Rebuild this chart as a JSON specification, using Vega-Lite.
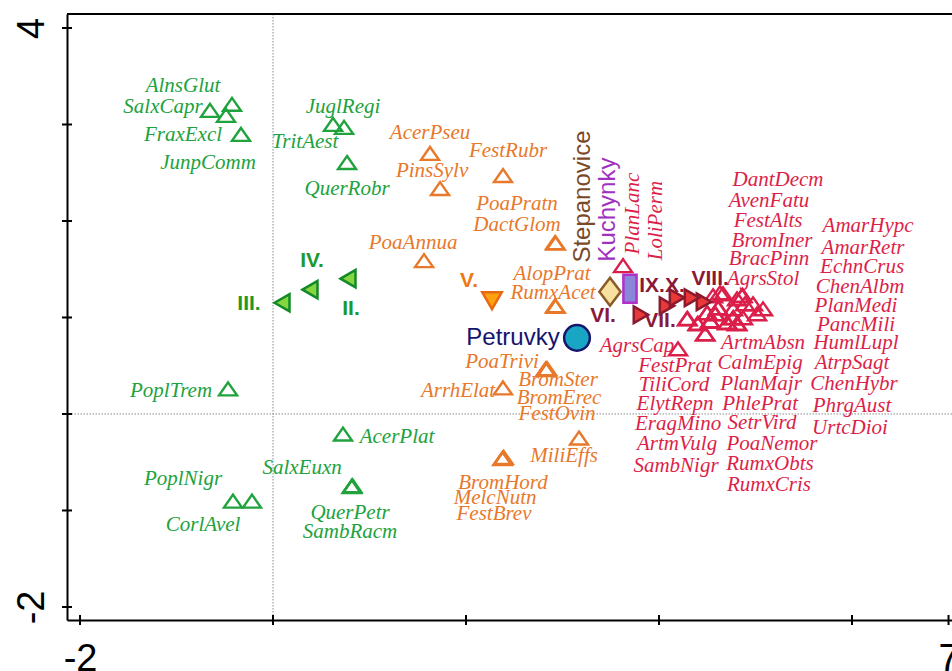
{
  "$schema": "https://vega.github.io/schema/vega-lite/v6.json",
  "width": 885,
  "height": 606,
  "autosize": {"type": "none"},
  "padding": {"left": 67, "top": 14, "right": 0, "bottom": 51},
  "background": "white",
  "config": {
    "view": {"stroke": null},
    "axisX": {
      "domain": true, "domainColor": "black", "domainWidth": 2,
      "ticks": false, "tickSize": 0, "grid": false,
      "labelFont": "Liberation Sans", "labelFontSize": 38, "labelColor": "black",
      "labelPadding": 20, "labelFlush": false, "labelOverlap": false, "labelBound": false
    },
    "axisY": {
      "domain": true, "domainColor": "black", "domainWidth": 2,
      "ticks": false, "tickSize": 0, "grid": false,
      "labelFont": "Liberation Sans", "labelFontSize": 38, "labelColor": "black",
      "labelAngle": 270, "labelAlign": "center", "labelBaseline": "alphabetic",
      "labelPadding": 24, "labelFlush": false, "labelOverlap": false, "labelBound": false
    }
  },
  "datasets": {
    "species": [
      {"name": "AlnsGlut", "group": "forest", "x": -0.425, "y": 3.209, "lx": -0.933, "ly": 3.396},
      {"name": "SalxCapr", "group": "forest", "x": -0.653, "y": 3.146, "lx": -1.140, "ly": 3.178},
      {"name": "JunpComm", "group": "forest", "x": -0.487, "y": 3.094, "lx": -0.674, "ly": 2.606},
      {"name": "FraxExcl", "group": "forest", "x": -0.332, "y": 2.897, "lx": -0.933, "ly": 2.887},
      {"name": "JuglRegi", "group": "forest", "x": 0.622, "y": 3.001, "lx": 0.725, "ly": 3.178},
      {"name": "TritAest", "group": "forest", "x": 0.736, "y": 2.970, "lx": 0.332, "ly": 2.814},
      {"name": "QuerRobr", "group": "forest", "x": 0.767, "y": 2.606, "lx": 0.767, "ly": 2.336},
      {"name": "PoplTrem", "group": "forest", "x": -0.466, "y": 0.260, "lx": -1.057, "ly": 0.239},
      {"name": "AcerPlat", "group": "forest", "x": 0.725, "y": -0.208, "lx": 1.285, "ly": -0.239},
      {"name": "SalxEuxn", "group": "forest", "x": 0.819, "y": -0.748, "lx": 0.301, "ly": -0.561},
      {"name": "QuerPetr", "group": "forest", "x": 0.815, "y": -0.752, "lx": 0.798, "ly": -1.028},
      {"name": "SambRacm", "group": "forest", "x": 0.823, "y": -0.744, "lx": 0.798, "ly": -1.225},
      {"name": "PoplNigr", "group": "forest", "x": -0.415, "y": -0.903, "lx": -0.933, "ly": -0.675},
      {"name": "CorlAvel", "group": "forest", "x": -0.218, "y": -0.903, "lx": -0.725, "ly": -1.153},
      {"name": "AcerPseu", "group": "grassland", "x": 1.627, "y": 2.700, "lx": 1.627, "ly": 2.908},
      {"name": "FestRubr", "group": "grassland", "x": 2.383, "y": 2.471, "lx": 2.435, "ly": 2.721},
      {"name": "PinsSylv", "group": "grassland", "x": 1.731, "y": 2.336, "lx": 1.648, "ly": 2.513},
      {"name": "PoaPratn", "group": "grassland", "x": 2.922, "y": 1.776, "lx": 2.528, "ly": 2.181},
      {"name": "DactGlom", "group": "grassland", "x": 2.930, "y": 1.770, "lx": 2.528, "ly": 1.963},
      {"name": "PoaAnnua", "group": "grassland", "x": 1.565, "y": 1.589, "lx": 1.451, "ly": 1.776},
      {"name": "AlopPrat", "group": "grassland", "x": 2.922, "y": 1.121, "lx": 2.891, "ly": 1.454},
      {"name": "RumxAcet", "group": "grassland", "x": 2.930, "y": 1.115, "lx": 2.902, "ly": 1.256},
      {"name": "PoaTrivi", "group": "grassland", "x": 2.829, "y": 0.467, "lx": 2.373, "ly": 0.540},
      {"name": "BromSter", "group": "grassland", "x": 2.835, "y": 0.460, "lx": 2.953, "ly": 0.353},
      {"name": "BromErec", "group": "grassland", "x": 2.840, "y": 0.470, "lx": 2.964, "ly": 0.166},
      {"name": "FestOvin", "group": "grassland", "x": 2.825, "y": 0.465, "lx": 2.943, "ly": 0.000},
      {"name": "ArrhElat", "group": "grassland", "x": 2.383, "y": 0.270, "lx": 1.917, "ly": 0.239},
      {"name": "MiliEffs", "group": "grassland", "x": 3.171, "y": -0.249, "lx": 3.016, "ly": -0.436},
      {"name": "BromHord", "group": "grassland", "x": 2.383, "y": -0.457, "lx": 2.383, "ly": -0.717},
      {"name": "MelcNutn", "group": "grassland", "x": 2.390, "y": -0.450, "lx": 2.301, "ly": -0.872},
      {"name": "FestBrev", "group": "grassland", "x": 2.376, "y": -0.462, "lx": 2.290, "ly": -1.038},
      {"name": "PlanLanc", "group": "ruderal", "x": 3.627, "y": 1.537, "lx": 3.731, "ly": 2.077},
      {"name": "LoliPerm", "group": "ruderal", "x": 4.560, "y": 1.225, "lx": 3.964, "ly": 2.004},
      {"name": "AgrsCap", "group": "ruderal", "x": 4.197, "y": 0.675, "lx": 3.772, "ly": 0.706},
      {"name": "DantDecm", "group": "ruderal", "x": 4.663, "y": 1.246, "lx": 5.233, "ly": 2.420},
      {"name": "AvenFatu", "group": "ruderal", "x": 4.808, "y": 1.194, "lx": 5.140, "ly": 2.212},
      {"name": "FestAlts", "group": "ruderal", "x": 4.860, "y": 1.225, "lx": 5.130, "ly": 2.004},
      {"name": "BromIner", "group": "ruderal", "x": 4.891, "y": 1.142, "lx": 5.171, "ly": 1.796},
      {"name": "BracPinn", "group": "ruderal", "x": 4.974, "y": 1.142, "lx": 5.140, "ly": 1.610},
      {"name": "AgrsStol", "group": "ruderal", "x": 4.632, "y": 1.256, "lx": 5.078, "ly": 1.402},
      {"name": "AmarHypc", "group": "ruderal", "x": 5.078, "y": 1.090, "lx": 6.166, "ly": 1.952},
      {"name": "AmarRetr", "group": "ruderal", "x": 5.016, "y": 1.038, "lx": 6.114, "ly": 1.724},
      {"name": "EchnCrus", "group": "ruderal", "x": 4.767, "y": 1.090, "lx": 6.104, "ly": 1.526},
      {"name": "ChenAlbm", "group": "ruderal", "x": 4.870, "y": 0.997, "lx": 6.083, "ly": 1.319},
      {"name": "PlanMedi", "group": "ruderal", "x": 4.611, "y": 1.101, "lx": 6.041, "ly": 1.121},
      {"name": "PancMili", "group": "ruderal", "x": 4.767, "y": 0.997, "lx": 6.041, "ly": 0.924},
      {"name": "HumlLupl", "group": "ruderal", "x": 4.705, "y": 0.945, "lx": 6.041, "ly": 0.737},
      {"name": "AtrpSagt", "group": "ruderal", "x": 4.808, "y": 0.935, "lx": 6.000, "ly": 0.530},
      {"name": "ChenHybr", "group": "ruderal", "x": 4.580, "y": 1.038, "lx": 6.021, "ly": 0.312},
      {"name": "PhrgAust", "group": "ruderal", "x": 4.528, "y": 0.966, "lx": 6.000, "ly": 0.083},
      {"name": "UrtcDioi", "group": "ruderal", "x": 4.497, "y": 1.049, "lx": 5.979, "ly": -0.145},
      {"name": "ArtmAbsn", "group": "ruderal", "x": 4.477, "y": 0.831, "lx": 5.078, "ly": 0.737},
      {"name": "CalmEpig", "group": "ruderal", "x": 4.404, "y": 0.935, "lx": 5.047, "ly": 0.530},
      {"name": "PlanMajr", "group": "ruderal", "x": 4.290, "y": 0.987, "lx": 5.057, "ly": 0.312},
      {"name": "PhlePrat", "group": "ruderal", "x": 4.535, "y": 0.960, "lx": 5.047, "ly": 0.104},
      {"name": "SetrVird", "group": "ruderal", "x": 4.770, "y": 1.000, "lx": 5.067, "ly": -0.093},
      {"name": "PoaNemor", "group": "ruderal", "x": 4.865, "y": 1.230, "lx": 5.171, "ly": -0.312},
      {"name": "RumxObts", "group": "ruderal", "x": 4.585, "y": 1.040, "lx": 5.150, "ly": -0.519},
      {"name": "RumxCris", "group": "ruderal", "x": 4.480, "y": 0.830, "lx": 5.140, "ly": -0.737},
      {"name": "FestPrat", "group": "ruderal", "x": 4.400, "y": 0.940, "lx": 4.166, "ly": 0.498},
      {"name": "TiliCord", "group": "ruderal", "x": 4.295, "y": 0.990, "lx": 4.155, "ly": 0.301},
      {"name": "ElytRepn", "group": "ruderal", "x": 4.500, "y": 1.050, "lx": 4.166, "ly": 0.104},
      {"name": "EragMino", "group": "ruderal", "x": 4.710, "y": 0.950, "lx": 4.197, "ly": -0.104},
      {"name": "ArtmVulg", "group": "ruderal", "x": 4.810, "y": 0.940, "lx": 4.187, "ly": -0.312},
      {"name": "SambNigr", "group": "ruderal", "x": 4.615, "y": 1.100, "lx": 4.176, "ly": -0.540}
    ],
    "sites": [
      {"name": "II", "label": "II.", "kind": "numbered", "x": 0.777, "y": 1.402, "lx": 0.808, "ly": 1.090},
      {"name": "III", "label": "III.", "kind": "numbered", "x": 0.093, "y": 1.153, "lx": -0.249, "ly": 1.142},
      {"name": "IV", "label": "IV.", "kind": "numbered", "x": 0.383, "y": 1.288, "lx": 0.404, "ly": 1.589},
      {"name": "V", "label": "V.", "kind": "numbered", "x": 2.269, "y": 1.173, "lx": 2.031, "ly": 1.381},
      {"name": "VI", "label": "VI.", "kind": "numbered", "x": 3.813, "y": 1.028, "lx": 3.420, "ly": 1.018},
      {"name": "VII", "label": "VII.", "kind": "numbered", "x": 4.083, "y": 1.121, "lx": 4.010, "ly": 0.966},
      {"name": "VIII", "label": "VIII.", "kind": "numbered", "x": 4.466, "y": 1.163, "lx": 4.530, "ly": 1.402},
      {"name": "IX", "label": "IX.", "kind": "numbered", "x": 4.187, "y": 1.205, "lx": 3.927, "ly": 1.329},
      {"name": "X", "label": "X.", "kind": "numbered", "x": 4.342, "y": 1.205, "lx": 4.165, "ly": 1.329},
      {"name": "Petruvky", "label": "Petruvky", "kind": "named", "x": 3.150, "y": 0.789, "lx": 2.487, "ly": 0.789},
      {"name": "Stepanovice", "label": "Stepanovice", "kind": "named", "x": 3.492, "y": 1.267, "lx": 3.212, "ly": 2.253},
      {"name": "Kuchynky", "label": "Kuchynky", "kind": "named", "x": 3.699, "y": 1.298, "lx": 3.472, "ly": 2.118}
    ],
    "one": [{}],
    "xticks": [{"v": -2}, {"v": 0}, {"v": 2}, {"v": 4}, {"v": 6}, {"v": 7}],
    "yticks": [{"v": -2}, {"v": -1}, {"v": 0}, {"v": 1}, {"v": 2}, {"v": 3}, {"v": 4}]
  },
  "layer": [
    {
      "data": {"name": "one"},
      "mark": {"type": "rule", "color": "#8a8a8a", "strokeWidth": 1, "strokeDash": [1.5, 1.5]},
      "encoding": {
        "y": {"datum": 0, "type": "quantitative", "scale": {"domain": [-2.135, 4.145], "nice": false, "zero": false},
          "axis": {"title": null, "values": [-2, -1, 0, 1, 2, 3, 4], "labelExpr": "datum.value == -2 ? '-2' : datum.value == 4 ? '4' : ''"}}
      }
    },
    {
      "data": {"name": "one"},
      "mark": {"type": "rule", "color": "#8a8a8a", "strokeWidth": 1, "strokeDash": [1.5, 1.5]},
      "encoding": {
        "x": {"datum": 0, "type": "quantitative", "scale": {"domain": [-2.135, 7.036], "nice": false, "zero": false},
          "axis": {"title": null, "values": [-2, 0, 2, 4, 6, 7], "labelExpr": "datum.value == -2 ? '-2' : datum.value == 7 ? '7' : ''"}}
      }
    },
    {
      "data": {"name": "one"},
      "mark": {"type": "rule", "color": "black", "strokeWidth": 2},
      "encoding": {
        "y": {"datum": 4.145, "type": "quantitative", "scale": {"domain": [-2.135, 4.145], "nice": false, "zero": false},
          "axis": {"title": null, "values": [-2, -1, 0, 1, 2, 3, 4], "labelExpr": "datum.value == -2 ? '-2' : datum.value == 4 ? '4' : ''"}}
      }
    },
    {
      "data": {"name": "species"},
      "mark": {"type": "point", "shape": "M0,-0.72L1,0.72L-1,0.72Z", "filled": false, "size": 324, "strokeWidth": 2.4, "opacity": 1},
      "encoding": {
        "x": {"field": "x", "type": "quantitative", "scale": {"domain": [-2.135, 7.036], "nice": false, "zero": false},
          "axis": {"title": null, "values": [-2, 0, 2, 4, 6, 7], "labelExpr": "datum.value == -2 ? '-2' : datum.value == 7 ? '7' : ''"}},
        "y": {"field": "y", "type": "quantitative", "scale": {"domain": [-2.135, 4.145], "nice": false, "zero": false},
          "axis": {"title": null, "values": [-2, -1, 0, 1, 2, 3, 4], "labelExpr": "datum.value == -2 ? '-2' : datum.value == 4 ? '4' : ''"}},
        "color": {
          "field": "group", "type": "nominal", "legend": null,
          "scale": {
            "domain": ["forest", "grassland", "ruderal", "II", "III", "IV", "V", "VI", "VII", "VIII", "IX", "X", "Petruvky", "Stepanovice", "Kuchynky"],
            "range": ["#20a23c", "#e8782a", "#dc1f4a", "#1a9a2e", "#1a9a2e", "#1a9a2e", "#f07814", "#8c1838", "#8c1838", "#8c1838", "#8c1838", "#8c1838", "#14146e", "#7a4a28", "#a030c0"]
          }
        }
      }
    },
    {
      "data": {"name": "species"},
      "transform": [{"filter": "datum.name != 'PlanLanc' && datum.name != 'LoliPerm'"}],
      "mark": {"type": "text", "font": "Liberation Serif", "fontStyle": "italic", "fontSize": 21, "align": "center", "baseline": "middle"},
      "encoding": {
        "x": {"field": "lx", "type": "quantitative", "scale": {"domain": [-2.135, 7.036], "nice": false, "zero": false},
          "axis": {"title": null, "values": [-2, 0, 2, 4, 6, 7], "labelExpr": "datum.value == -2 ? '-2' : datum.value == 7 ? '7' : ''"}},
        "y": {"field": "ly", "type": "quantitative", "scale": {"domain": [-2.135, 4.145], "nice": false, "zero": false},
          "axis": {"title": null, "values": [-2, -1, 0, 1, 2, 3, 4], "labelExpr": "datum.value == -2 ? '-2' : datum.value == 4 ? '4' : ''"}},
        "text": {"field": "name"},
        "color": {"field": "group", "type": "nominal", "legend": null}
      }
    },
    {
      "data": {"name": "species"},
      "transform": [{"filter": "datum.name == 'PlanLanc' || datum.name == 'LoliPerm'"}],
      "mark": {"type": "text", "font": "Liberation Serif", "fontStyle": "italic", "fontSize": 21, "align": "center", "baseline": "middle", "angle": 270},
      "encoding": {
        "x": {"field": "lx", "type": "quantitative", "scale": {"domain": [-2.135, 7.036], "nice": false, "zero": false},
          "axis": {"title": null, "values": [-2, 0, 2, 4, 6, 7], "labelExpr": "datum.value == -2 ? '-2' : datum.value == 7 ? '7' : ''"}},
        "y": {"field": "ly", "type": "quantitative", "scale": {"domain": [-2.135, 4.145], "nice": false, "zero": false},
          "axis": {"title": null, "values": [-2, -1, 0, 1, 2, 3, 4], "labelExpr": "datum.value == -2 ? '-2' : datum.value == 4 ? '4' : ''"}},
        "text": {"field": "name"},
        "color": {"field": "group", "type": "nominal", "legend": null}
      }
    },
    {
      "data": {"name": "sites"},
      "mark": {"type": "point", "filled": true, "strokeWidth": 2.5, "opacity": 1},
      "encoding": {
        "x": {"field": "x", "type": "quantitative", "scale": {"domain": [-2.135, 7.036], "nice": false, "zero": false},
          "axis": {"title": null, "values": [-2, 0, 2, 4, 6, 7], "labelExpr": "datum.value == -2 ? '-2' : datum.value == 7 ? '7' : ''"}},
        "y": {"field": "y", "type": "quantitative", "scale": {"domain": [-2.135, 4.145], "nice": false, "zero": false},
          "axis": {"title": null, "values": [-2, -1, 0, 1, 2, 3, 4], "labelExpr": "datum.value == -2 ? '-2' : datum.value == 4 ? '4' : ''"}},
        "shape": {
          "field": "name", "type": "nominal", "legend": null,
          "scale": {
            "domain": ["II", "III", "IV", "V", "VI", "VII", "VIII", "IX", "X", "Petruvky", "Stepanovice", "Kuchynky"],
            "range": ["triangle-left", "triangle-left", "triangle-left", "triangle-down", "triangle-right", "triangle-right", "triangle-right", "triangle-right", "triangle-right", "circle", "M0,-1L0.76,0L0,1L-0.76,0Z", "M-0.47,-1H0.47V1H-0.47Z"]
          }
        },
        "size": {
          "field": "name", "type": "nominal", "legend": null,
          "scale": {
            "type": "ordinal",
            "domain": ["II", "III", "IV", "V", "VI", "VII", "VIII", "IX", "X", "Petruvky", "Stepanovice", "Kuchynky"],
            "range": [300, 300, 300, 380, 280, 280, 280, 280, 280, 660, 784, 784]
          }
        },
        "fill": {
          "field": "name", "type": "nominal", "legend": null,
          "scale": {
            "domain": ["II", "III", "IV", "V", "VI", "VII", "VIII", "IX", "X", "Petruvky", "Stepanovice", "Kuchynky"],
            "range": ["#86d640", "#86d640", "#86d640", "#ffa010", "#e83838", "#e83838", "#e83838", "#e83838", "#e83838", "#18a6c4", "#f8e0a0", "#8a86d8"]
          }
        },
        "stroke": {
          "field": "name", "type": "nominal", "legend": null,
          "scale": {
            "domain": ["II", "III", "IV", "V", "VI", "VII", "VIII", "IX", "X", "Petruvky", "Stepanovice", "Kuchynky"],
            "range": ["#138a28", "#138a28", "#138a28", "#e86a10", "#8c1a2e", "#8c1a2e", "#8c1a2e", "#8c1a2e", "#8c1a2e", "#16166e", "#8a5a26", "#b030c8"]
          }
        }
      }
    },
    {
      "data": {"name": "sites"},
      "transform": [{"filter": "datum.kind == 'numbered'"}],
      "mark": {"type": "text", "font": "Liberation Sans", "fontWeight": "bold", "fontSize": 21, "align": "center", "baseline": "middle"},
      "encoding": {
        "x": {"field": "lx", "type": "quantitative", "scale": {"domain": [-2.135, 7.036], "nice": false, "zero": false},
          "axis": {"title": null, "values": [-2, 0, 2, 4, 6, 7], "labelExpr": "datum.value == -2 ? '-2' : datum.value == 7 ? '7' : ''"}},
        "y": {"field": "ly", "type": "quantitative", "scale": {"domain": [-2.135, 4.145], "nice": false, "zero": false},
          "axis": {"title": null, "values": [-2, -1, 0, 1, 2, 3, 4], "labelExpr": "datum.value == -2 ? '-2' : datum.value == 4 ? '4' : ''"}},
        "text": {"field": "label"},
        "color": {"field": "name", "type": "nominal", "legend": null}
      }
    },
    {
      "data": {"name": "sites"},
      "transform": [{"filter": "datum.name == 'Petruvky'"}],
      "mark": {"type": "text", "font": "Liberation Sans", "fontSize": 24, "align": "center", "baseline": "middle"},
      "encoding": {
        "x": {"field": "lx", "type": "quantitative", "scale": {"domain": [-2.135, 7.036], "nice": false, "zero": false},
          "axis": {"title": null, "values": [-2, 0, 2, 4, 6, 7], "labelExpr": "datum.value == -2 ? '-2' : datum.value == 7 ? '7' : ''"}},
        "y": {"field": "ly", "type": "quantitative", "scale": {"domain": [-2.135, 4.145], "nice": false, "zero": false},
          "axis": {"title": null, "values": [-2, -1, 0, 1, 2, 3, 4], "labelExpr": "datum.value == -2 ? '-2' : datum.value == 4 ? '4' : ''"}},
        "text": {"field": "label"},
        "color": {"field": "name", "type": "nominal", "legend": null}
      }
    },
    {
      "data": {"name": "sites"},
      "transform": [{"filter": "datum.name == 'Stepanovice' || datum.name == 'Kuchynky'"}],
      "mark": {"type": "text", "font": "Liberation Sans", "fontSize": 24, "align": "center", "baseline": "middle", "angle": 270},
      "encoding": {
        "x": {"field": "lx", "type": "quantitative", "scale": {"domain": [-2.135, 7.036], "nice": false, "zero": false},
          "axis": {"title": null, "values": [-2, 0, 2, 4, 6, 7], "labelExpr": "datum.value == -2 ? '-2' : datum.value == 7 ? '7' : ''"}},
        "y": {"field": "ly", "type": "quantitative", "scale": {"domain": [-2.135, 4.145], "nice": false, "zero": false},
          "axis": {"title": null, "values": [-2, -1, 0, 1, 2, 3, 4], "labelExpr": "datum.value == -2 ? '-2' : datum.value == 4 ? '4' : ''"}},
        "text": {"field": "label"},
        "color": {"field": "name", "type": "nominal", "legend": null}
      }
    },
    {
      "data": {"name": "xticks"},
      "mark": {"type": "tick", "orient": "vertical", "size": 10, "thickness": 2, "color": "black", "opacity": 1},
      "encoding": {
        "x": {"field": "v", "type": "quantitative", "scale": {"domain": [-2.135, 7.036], "nice": false, "zero": false},
          "axis": {"title": null, "values": [-2, 0, 2, 4, 6, 7], "labelExpr": "datum.value == -2 ? '-2' : datum.value == 7 ? '7' : ''"}},
        "y": {"datum": -2.135, "type": "quantitative", "scale": {"domain": [-2.135, 4.145], "nice": false, "zero": false},
          "axis": {"title": null, "values": [-2, -1, 0, 1, 2, 3, 4], "labelExpr": "datum.value == -2 ? '-2' : datum.value == 4 ? '4' : ''"}}
      }
    },
    {
      "data": {"name": "yticks"},
      "mark": {"type": "tick", "orient": "horizontal", "size": 10, "thickness": 2, "color": "black", "opacity": 1},
      "encoding": {
        "x": {"datum": -2.135, "type": "quantitative", "scale": {"domain": [-2.135, 7.036], "nice": false, "zero": false},
          "axis": {"title": null, "values": [-2, 0, 2, 4, 6, 7], "labelExpr": "datum.value == -2 ? '-2' : datum.value == 7 ? '7' : ''"}},
        "y": {"field": "v", "type": "quantitative", "scale": {"domain": [-2.135, 4.145], "nice": false, "zero": false},
          "axis": {"title": null, "values": [-2, -1, 0, 1, 2, 3, 4], "labelExpr": "datum.value == -2 ? '-2' : datum.value == 4 ? '4' : ''"}}
      }
    }
  ]
}
